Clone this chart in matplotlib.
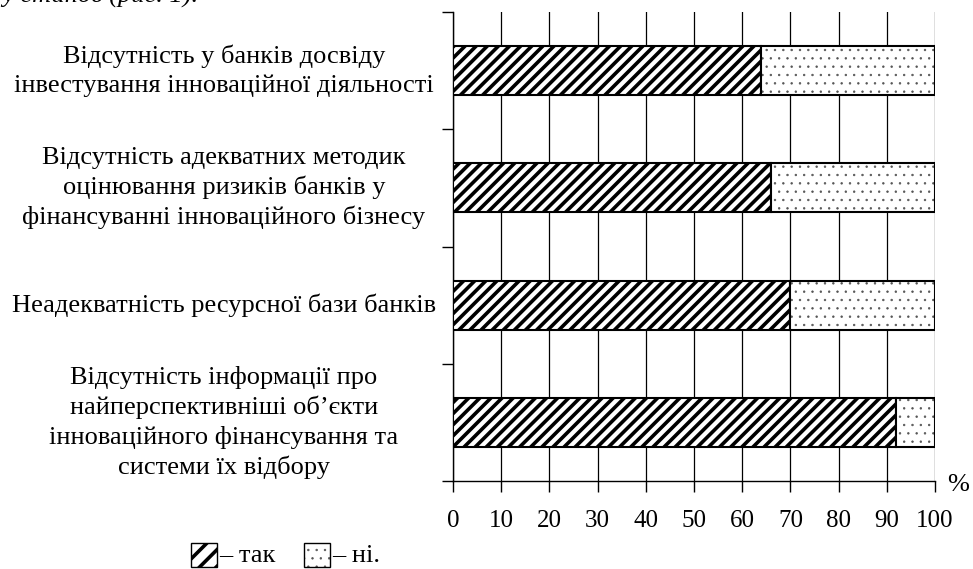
import matplotlib
matplotlib.use("Agg")
import matplotlib.pyplot as plt
from matplotlib.patches import Rectangle

plt.rcParams['font.family'] = ['Liberation Serif', 'DejaVu Serif']
plt.rcParams['hatch.linewidth'] = 2.6

# data, top to bottom
categories = [
    "Відсутність у банків досвіду\nінвестування інноваційної діяльності",
    "Відсутність адекватних методик\nоцінювання ризиків банків у\nфінансуванні інноваційного бізнесу",
    "Неадекватність ресурсної бази банків",
    "Відсутність інформації про\nнайперспективніші об’єкти\nінноваційного фінансування та\nсистеми їх відбору",
]
yes_vals = [64, 66, 70, 92]
no_vals = [36, 34, 30, 8]
xticks = [0, 10, 20, 30, 40, 50, 60, 70, 80, 90, 100]
legend_labels = ["– так", "– ні."]

fs = 19
fs_tick = 18
dot_col = '#555555'

fig = plt.figure(figsize=(9.73, 5.69), dpi=100)
ax = fig.add_axes([453 / 973, 1 - 481 / 569, (935 - 453) / 973, (481 - 12) / 569])

ypos = list(range(len(categories)))
bar_h = 0.42
ax.barh(ypos, yes_vals, height=bar_h, color='white', edgecolor='black',
        hatch='///', linewidth=1.5, zorder=3)
# small grey dots for "ні", outline drawn separately in black
with plt.rc_context({'hatch.linewidth': 0.5}):
    ax.barh(ypos, no_vals, left=yes_vals, height=bar_h, color='white',
            edgecolor=dot_col, hatch='..', linewidth=0, zorder=3)
ax.barh(ypos, no_vals, left=yes_vals, height=bar_h, fill=False,
        edgecolor='black', linewidth=1.5, zorder=4)

ax.set_xlim(0, 100)
ax.set_ylim(len(categories) - 0.5, -0.5)

ax.set_xticks(xticks)
ax.set_xticklabels([str(t) for t in xticks], fontsize=fs_tick)
ax.tick_params(axis='x', direction='out', length=8, width=1, pad=13)
ax.grid(axis='x', color='black', linewidth=0.9, zorder=0)

ax.set_yticks([i - 0.5 for i in range(len(categories) + 1)])
ax.set_yticklabels([])
ax.tick_params(axis='y', direction='out', length=8, width=1)

for i, lab in enumerate(categories):
    ax.annotate(lab, xy=(224 / 973, i), xycoords=(fig.transFigure, 'data'),
                ha='center', va='center', fontsize=fs, multialignment='center',
                linespacing=1.37)

for s in ['top', 'right']:
    ax.spines[s].set_visible(False)
ax.spines['left'].set_linewidth(1)
ax.spines['bottom'].set_linewidth(1)

fig.text(958 / 973, 1 - 485 / 569, "%", fontsize=fs, ha='center', va='center')

# cropped line of document text at the top
fig.text(2 / 973, 1 - 3 / 569, "у станов (рис. 1).", fontsize=fs,
         style='italic', ha='left', va='baseline')

# legend
box_w = 26 / 973
box_h = 24 / 569
yb = 1 - 567 / 569
fig.patches.append(Rectangle((191 / 973, yb), box_w, box_h, transform=fig.transFigure,
                             facecolor='white', edgecolor='black', hatch='//', lw=1))
fig.text(219 / 973, 1 - 556 / 569, legend_labels[0], fontsize=fs, va='center')
with plt.rc_context({'hatch.linewidth': 0.5}):
    fig.patches.append(Rectangle((304 / 973, yb), box_w, box_h, transform=fig.transFigure,
                                 facecolor='white', edgecolor=dot_col, hatch='..', lw=0))
fig.patches.append(Rectangle((304 / 973, yb), box_w, box_h, transform=fig.transFigure,
                             fill=False, edgecolor='black', lw=1))
fig.text(332 / 973, 1 - 556 / 569, legend_labels[1], fontsize=fs, va='center')

fig.savefig("out.png", dpi=100)
